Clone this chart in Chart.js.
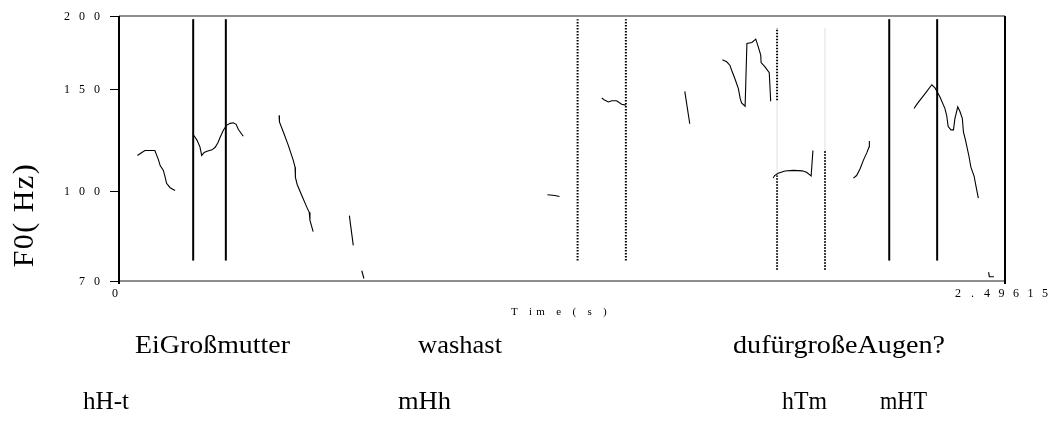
<!DOCTYPE html>
<html>
<head>
<meta charset="utf-8">
<script src="https://cdn.jsdelivr.net/npm/chart.js@4.4.0/dist/chart.umd.min.js"></script>
<style>
  html, body { margin: 0; padding: 0; background: #fff; }
  #wrap { width: 1050px; height: 436px; }
</style>
</head>
<body>
<div id="wrap"><canvas id="f0" width="1050" height="436"></canvas></div>
<script>
// pitch track pieces (time in s, F0 in Hz)
const contourTimes = [
  [0.052, 0.059, 0.073, 0.101, 0.111, 0.116, 0.125, 0.130, 0.134, 0.144, 0.158],
  [0.211, 0.220, 0.228, 0.233, 0.240, 0.248, 0.262, 0.271, 0.279, 0.285, 0.294, 0.303, 0.313, 0.322, 0.330, 0.336, 0.350],
  [0.451, 0.452, 0.463, 0.477, 0.491, 0.496, 0.497, 0.502, 0.515, 0.529, 0.536, 0.538, 0.547],
  [0.649, 0.660],
  [0.684, 0.690],
  [1.207, 1.228, 1.241],
  [1.360, 1.369, 1.379, 1.388, 1.402, 1.416, 1.428],
  [1.594, 1.608],
  [1.700, 1.712, 1.721, 1.726, 1.735, 1.745, 1.750, 1.754, 1.764, 1.769, 1.783, 1.794, 1.801, 1.808, 1.809, 1.820, 1.832, 1.836],
  [1.843, 1.847, 1.857, 1.876, 1.900, 1.925, 1.937, 1.950, 1.955],
  [2.069, 2.078, 2.088, 2.097, 2.107, 2.113, 2.114],
  [2.240, 2.247, 2.271, 2.290, 2.299, 2.313, 2.327, 2.332, 2.336, 2.344, 2.351, 2.355, 2.363, 2.369, 2.376, 2.379, 2.385, 2.395, 2.400, 2.409, 2.414, 2.421],
  [2.450, 2.452, 2.465]
];
const contourHz = [
  [115.1, 115.9, 117.4, 117.4, 113.2, 110.6, 108.5, 105.6, 103.1, 101.3, 100.2],
  [124.6, 122.2, 119.1, 115.1, 116.5, 117.0, 117.7, 118.9, 121.2, 123.7, 127.2, 129.7, 130.7, 131.0, 130.2, 127.7, 124.2],
  [134.9, 131.5, 126.3, 119.8, 112.9, 109.9, 105.5, 102.6, 98.2, 93.8, 91.9, 89.0, 85.1],
  [90.7, 80.6],
  [72.9, 70.7],
  [98.5, 98.2, 97.8],
  [144.5, 143.2, 142.3, 143.0, 143.0, 141.0, 140.5],
  [148.4, 130.5],
  [168.1, 166.8, 164.6, 161.3, 156.1, 150.0, 144.3, 141.7, 139.9, 179.4, 180.1, 182.5, 177.0, 171.3, 166.3, 163.5, 159.7, 142.7],
  [105.3, 106.3, 107.3, 108.2, 108.5, 108.3, 107.7, 106.1, 117.4],
  [105.2, 106.3, 109.2, 112.9, 116.4, 119.0, 121.9],
  [138.6, 140.8, 147.1, 152.3, 150.4, 145.1, 138.6, 134.7, 129.1, 127.4, 127.4, 133.2, 139.5, 137.1, 133.2, 126.4, 122.2, 114.4, 109.9, 106.1, 102.2, 97.2],
  [72.5, 71.2, 71.2]
];

// segment boundaries
const solidTimes = [0.209, 0.301, 2.170, 2.305];
const solidFrom = [75.9, 75.9, 75.9, 75.9];
const solidTo = [197.5, 197.5, 197.5, 197.5];

const dottedTimes = [1.292, 1.428, 1.854, 1.854, 1.854, 1.989, 1.989];
const dottedFrom = [75.9, 75.9, 73.2, 106.3, 143.2, 73.2, 117.4];
const dottedTo = [197.5, 197.5, 106.3, 143.2, 190.7, 117.4, 190.7];
const dottedFaded = [false, false, false, true, false, false, true];

const yTicks = [70, 100, 150, 200];
const xTicks = [0, 2.49615];
const xTickLabels = ['0', '2.49615'];

const wordTier = ['EiGroßmutter', 'washast', 'dufürgroßeAugen?'];
const toneTier = ['hH-t', 'mHh', 'hTm', 'mHT'];

// where the tier texts sit (pixels: start and width)
const wordX = [135, 418, 733];
const wordW = [155, 84, 212];
const toneX = [83, 398, 782, 880];
const toneW = [46, 53, 45, 47];

const datasets = [];
contourTimes.forEach((ts, i) => {
  datasets.push({
    data: ts.map((t, j) => ({ x: t, y: contourHz[i][j] })),
    borderColor: '#000',
    borderWidth: 1.1,
    pointRadius: 0,
    showLine: true,
    tension: 0
  });
});
solidTimes.forEach((t, i) => {
  datasets.push({
    data: [{ x: t, y: solidFrom[i] }, { x: t, y: solidTo[i] }],
    borderColor: '#000',
    borderWidth: 2,
    pointRadius: 0,
    showLine: true
  });
});
dottedTimes.forEach((t, i) => {
  datasets.push({
    data: [{ x: t, y: dottedFrom[i] }, { x: t, y: dottedTo[i] }],
    borderColor: dottedFaded[i] ? '#bdbdbd' : '#000',
    borderWidth: dottedFaded[i] ? 1 : 2,
    borderDash: dottedFaded[i] ? [1, 1] : [1.5, 1.5],
    pointRadius: 0,
    showLine: true
  });
});

function spaced(ctx, text, cx, cy, step) {
  const n = text.length;
  for (let i = 0; i < n; i++) {
    ctx.fillText(text[i], cx + (i - (n - 1) / 2) * step, cy);
  }
}

function fitText(ctx, text, x, y, w) {
  const m = ctx.measureText(text).width;
  ctx.save();
  ctx.translate(x, y);
  ctx.scale(w / m, 1);
  ctx.fillText(text, 0, 0);
  ctx.restore();
}

const framePlugin = {
  id: 'frame',
  afterDraw(chart) {
    const { ctx, chartArea: a } = chart;
    const xs = chart.scales.x, ys = chart.scales.y;
    ctx.save();

    ctx.strokeStyle = '#6a6a6a';
    ctx.lineWidth = 1.5;
    ctx.beginPath();
    ctx.moveTo(a.left, a.top); ctx.lineTo(a.right, a.top);
    ctx.moveTo(a.left, a.bottom); ctx.lineTo(a.right, a.bottom);
    ctx.stroke();

    ctx.strokeStyle = '#000';
    ctx.lineWidth = 2;
    ctx.beginPath();
    ctx.moveTo(a.left, a.top); ctx.lineTo(a.left, a.bottom + 3);
    ctx.moveTo(a.right, a.top); ctx.lineTo(a.right, a.bottom + 3);
    ctx.stroke();

    // y ticks
    ctx.lineWidth = 1;
    ctx.fillStyle = '#000';
    ctx.font = '12px "Liberation Serif"';
    ctx.textAlign = 'center';
    ctx.textBaseline = 'middle';
    yTicks.forEach(v => {
      const py = Math.round(ys.getPixelForValue(v)) + 0.5;
      ctx.beginPath();
      ctx.moveTo(a.left - 9, py); ctx.lineTo(a.left, py);
      ctx.stroke();
      const s = String(v);
      spaced(ctx, s, a.left - 22 - (s.length - 1) / 2 * 15, py, 15);
    });

    // x ticks
    xTicks.forEach((v, i) => {
      const px = xs.getPixelForValue(v);
      const s = xTickLabels[i];
      if (i === 0) spaced(ctx, s, px - 4, a.bottom + 13, 14.5);
      else spaced(ctx, s, px - 3.5, a.bottom + 13, 14.5);
    });

    ctx.font = '11px "Liberation Serif"';
    ctx.letterSpacing = '4.3px';
    ctx.fillText('T im e ( s )', (a.left + a.right) / 2 - 1, a.bottom + 31);
    ctx.letterSpacing = '0px';

    // axis title
    ctx.save();
    ctx.translate(33, 215);
    ctx.rotate(-Math.PI / 2);
    ctx.font = '30px "Liberation Serif"';
    ctx.textBaseline = 'alphabetic';
    ctx.letterSpacing = '1.5px';
    ctx.fillText('F0( Hz)', 0, 0);
    ctx.restore();

    // text tiers
    ctx.font = '26px "Liberation Serif"';
    ctx.textAlign = 'left';
    ctx.textBaseline = 'alphabetic';
    wordTier.forEach((w, i) => fitText(ctx, w, wordX[i], 353, wordW[i]));
    toneTier.forEach((w, i) => fitText(ctx, w, toneX[i], 409, toneW[i]));

    ctx.restore();
  }
};

new Chart(document.getElementById('f0'), {
  type: 'scatter',
  data: { datasets },
  options: {
    responsive: false,
    animation: false,
    layout: { padding: { left: 119, right: 45, top: 16, bottom: 155 } },
    plugins: { legend: { display: false }, tooltip: { enabled: false } },
    scales: {
      x: { type: 'linear', min: 0, max: 2.49615, display: false },
      y: { type: 'logarithmic', min: 70, max: 200, display: false }
    }
  },
  plugins: [framePlugin]
});
</script>
</body>
</html>
